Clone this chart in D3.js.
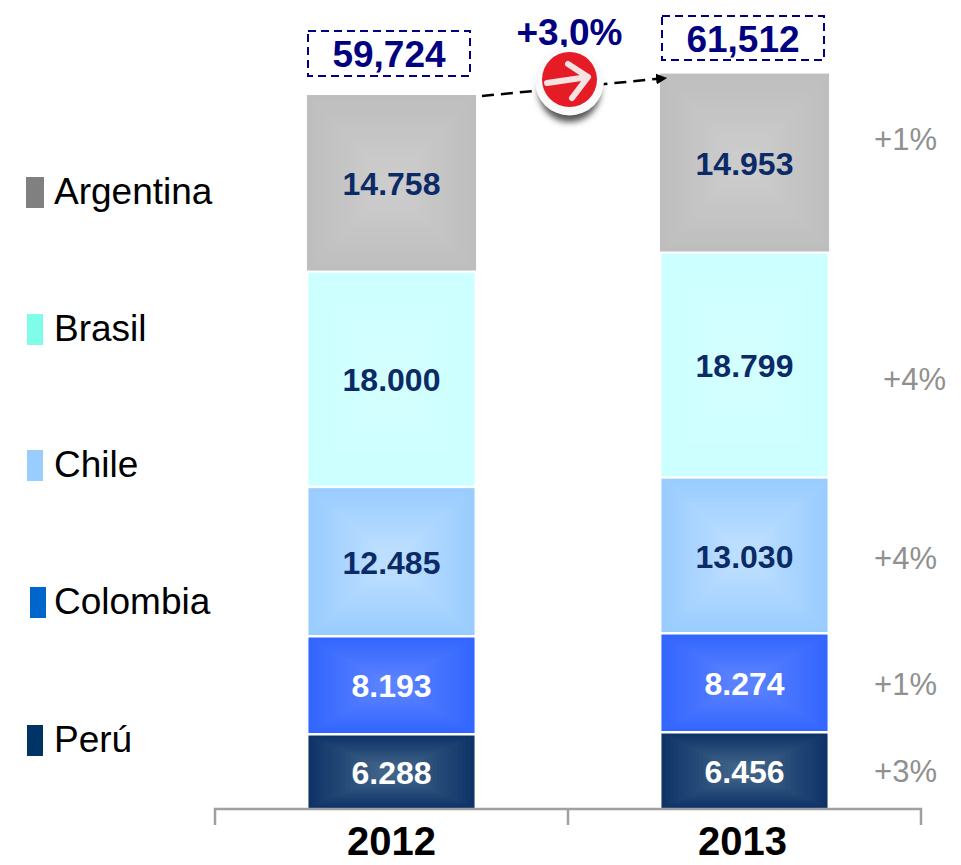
<!DOCTYPE html>
<html><head><meta charset="utf-8">
<style>html,body{margin:0;padding:0;background:#fff}svg{display:block}text{font-family:"Liberation Sans",Arial,sans-serif}</style>
<script src="https://cdn.jsdelivr.net/npm/d3@7"></script></head>
<body><svg id="c" width="961" height="865"></svg>
<script>
const years=["2012","2013"];
const seriesNames=["Perú","Colombia","Chile","Brasil","Argentina"];
const peru=[6288,6456];
const colombia=[8193,8274];
const chile=[12485,13030];
const brasil=[18000,18799];
const argentina=[14758,14953];
const totals=["59,724","61,512"];
const growthLabels=["+3%","+1%","+4%","+4%","+1%"];
const totalGrowth="+3,0%";
const edgeColors=["#0f3368","#3366ff","#99ccff","#ccffff","#bebebe"];
const centerColors=["#406488","#5a82ff","#bddfff","#d4ffff","#cccccc"];
const labelColors=["#ffffff","#ffffff","#0b2a66","#0b2a66","#0b2a66"];
const swatchColors=["#003366","#0066cc","#99ccff","#7ffde8","#808080"];

const values=[peru,colombia,chile,brasil,argentina];
const svg=d3.select("#c");
const x=d3.scaleBand().domain(years).range([215,921]).paddingInner(0.521).paddingOuter(0.2605);
const y=d3.scaleLinear().domain([0,59724]).range([809.5,95]);

const defs=svg.append("defs");
const blur=defs.append("filter").attr("id","soft").attr("x","-30%").attr("y","-30%").attr("width","160%").attr("height","160%");
blur.append("feGaussianBlur").attr("stdDeviation",3);
const blur2=defs.append("filter").attr("id","soft2").attr("x","-20%").attr("y","-20%").attr("width","140%").attr("height","140%");
blur2.append("feGaussianBlur").attr("stdDeviation",0.7);
const mk=defs.append("marker").attr("id","arrow").attr("viewBox","0 0 10 10").attr("refX",9).attr("refY",5)
  .attr("markerWidth",11).attr("markerHeight",11).attr("markerUnits","userSpaceOnUse").attr("orient","auto");
mk.append("path").attr("d","M0,0L10,5L0,10Z").attr("fill","#000");

// bars, each filled with stepped concentric rectangles
const stepCount=18;
const steps=d3.range(0,stepCount);
years.forEach((yr,yi)=>{
  let acc=0;
  values.forEach((v,si)=>{
    const y0=y(acc), y1=y(acc+v[yi]);
    acc+=v[yi];
    const isTop=si===values.length-1;
    const inset=isTop?0:1.5;
    const top=isTop?y1:y1+1.25;
    const h=isTop?y0-y1-1:y0-y1-2.5;
    const bx=x(yr)+inset, bw=x.bandwidth()-2*inset;
    const col=d3.interpolateRgb(edgeColors[si],centerColors[si]);
    const g=svg.append("g");
    g.selectAll("rect").data(steps).join("rect")
      .attr("x",d=>bx+d/stepCount*bw*0.45).attr("y",d=>top+d/stepCount*h*0.45)
      .attr("width",d=>bw-2*d/stepCount*bw*0.45).attr("height",d=>h-2*d/stepCount*h*0.45)
      .attr("fill",d=>col(d/(stepCount-1)));
    svg.append("text").attr("x",bx+bw/2).attr("y",(y0+y1)/2+1).attr("dy","0.35em")
      .attr("text-anchor","middle").attr("font-size",32).attr("font-weight","bold")
      .attr("fill",labelColors[si]).text(d3.format(".3f")(v[yi]/1000));
  });
});

// axis
const axisG=svg.append("g").attr("stroke","#a0a0a0").attr("stroke-width",2.5).attr("fill","none");
const mid=(x(years[0])+x(years[1])+x.bandwidth())/2;
axisG.append("path").attr("d",`M215,825V809H921V825M${mid},809V825`);
svg.selectAll(".yr").data(years).join("text").attr("class","yr")
  .attr("x",(d,i)=>x(d)+x.bandwidth()/2-(i?2:0)).attr("y",855).attr("text-anchor","middle")
  .attr("font-size",40).attr("font-weight","bold").attr("fill","#000").text(d=>d);

// legend
const legendY=[739,601,464,328,191];
const legendSw=[[27,16],[30,16],[27,16],[27,16],[26,18]];
seriesNames.forEach((n,i)=>{
  svg.append("rect").attr("x",legendSw[i][0]).attr("y",legendY[i]-14).attr("width",legendSw[i][1]).attr("height",31).attr("fill",swatchColors[i]);
  svg.append("text").attr("x",54).attr("y",legendY[i]).attr("dy","0.35em").attr("font-size",37).attr("fill","#000").text(n);
});

// growth labels
const growthPos=[[905.5,771],[905.5,684],[905.5,558],[914.5,379],[905.5,139]];
growthLabels.forEach((t,i)=>{
  svg.append("text").attr("x",growthPos[i][0]).attr("y",growthPos[i][1]).attr("dy","0.35em")
    .attr("text-anchor","middle").attr("font-size",31).attr("fill","#909090").text(t);
});

// total boxes
const boxes=[[308,31,162,45],[662,16,162,44]];
totals.forEach((t,i)=>{
  const b=boxes[i];
  svg.append("rect").attr("x",b[0]).attr("y",b[1]).attr("width",b[2]).attr("height",b[3])
    .attr("fill","none").attr("stroke","#000080").attr("stroke-width",2).attr("stroke-dasharray","8 5");
  svg.append("text").attr("x",b[0]+b[2]/2).attr("y",b[1]+b[3]/2+1).attr("dy","0.35em")
    .attr("text-anchor","middle").attr("font-size",37).attr("font-weight","bold").attr("fill","#000080").text(t);
});

// growth arrow
svg.append("line").attr("x1",482).attr("y1",96).attr("x2",666).attr("y2",78)
  .attr("stroke","#000").attr("stroke-width",2.5).attr("stroke-dasharray","12 7").attr("marker-end","url(#arrow)");
svg.append("text").attr("x",569.5).attr("y",32).attr("dy","0.35em").attr("text-anchor","middle")
  .attr("font-size",37).attr("font-weight","bold").attr("fill","#000080").text(totalGrowth);
svg.append("circle").attr("cx",569.5).attr("cy",91).attr("r",31).attr("fill","#555").attr("filter","url(#soft)");
svg.append("circle").attr("cx",569.5).attr("cy",81).attr("r",34.5).attr("fill","#fafafa").attr("filter","url(#soft2)");
svg.append("circle").attr("cx",569.5).attr("cy",79.5).attr("r",27.5).attr("fill","#e51e26").attr("filter","url(#soft2)");
svg.append("path").attr("d","M547,83L588,77M568,64L588,77L572,98")
  .attr("fill","none").attr("stroke","#f6e2e2").attr("stroke-width",6).attr("stroke-linecap","round").attr("stroke-linejoin","round").attr("filter","url(#soft2)");
</script></body></html>
